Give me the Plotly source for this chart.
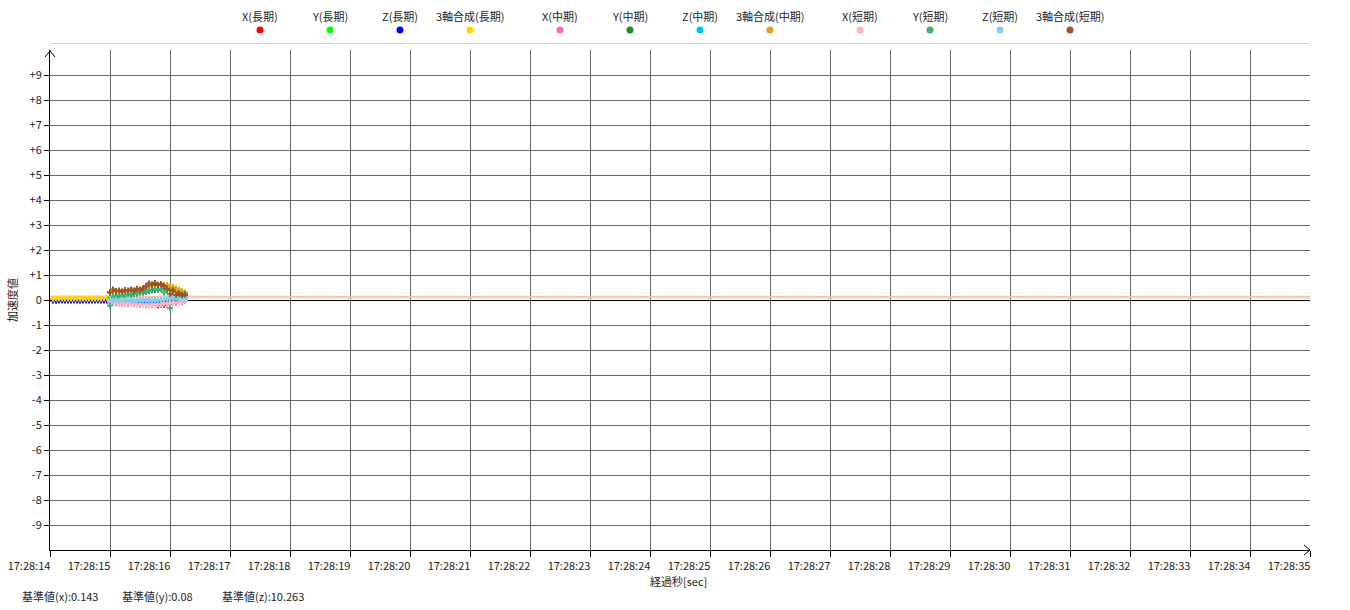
import plotly.graph_objects as go

# ---------------- data ----------------
series_names = ["X(長期)", "Y(長期)", "Z(長期)", "3軸合成(長期)",
                "X(中期)", "Y(中期)", "Z(中期)", "3軸合成(中期)",
                "X(短期)", "Y(短期)", "Z(短期)", "3軸合成(短期)"]
series_colors = ["#ff0000", "#00ff00", "#0000ff", "#ffd700",
                 "#ff69b4", "#228b22", "#00bfff", "#daa520",
                 "#ffb6c1", "#3cb371", "#87ceeb", "#a0522d"]

# sampling times (seconds after 17:28:00)
t_idle = [14.05, 14.10, 14.15, 14.20, 14.25, 14.30, 14.35, 14.40, 14.45, 14.50,
          14.55, 14.60, 14.65, 14.70, 14.75, 14.80, 14.85, 14.90, 14.95]
t_move = [15.00, 15.05, 15.10, 15.15, 15.20, 15.25, 15.30, 15.35, 15.40, 15.45,
          15.50, 15.55, 15.60, 15.65, 15.70, 15.75, 15.80, 15.85, 15.90, 15.95,
          16.00, 16.05, 16.10, 16.15, 16.20, 16.25]

# idle-phase values (long-term series only)
x_long_idle = [-0.01, -0.01, -0.01, -0.01, -0.01, -0.01, -0.01, -0.01, -0.01, -0.01,
               -0.01, -0.01, -0.01, -0.01, -0.01, -0.01, -0.01, -0.01, -0.02]
y_long_idle = [0.02, 0.02, 0.02, 0.02, 0.02, 0.02, 0.02, 0.02, 0.02, 0.02,
               0.02, 0.02, 0.02, 0.02, 0.02, 0.02, 0.02, 0.03, 0.04]
z_long_idle = [-0.02, -0.02, -0.01, -0.01, -0.01, -0.01, -0.01, -0.01, -0.01, -0.01,
               -0.01, -0.01, -0.01, -0.01, -0.01, -0.01, -0.01, -0.01, -0.01]
s_long_idle = [0.05, 0.06, 0.06, 0.06, 0.06, 0.06, 0.06, 0.06, 0.06, 0.06,
               0.06, 0.06, 0.06, 0.06, 0.06, 0.06, 0.06, 0.07, 0.09]

# moving-phase values
x_long = [-0.08, -0.10, -0.11, -0.12, -0.12, -0.13, -0.14, -0.14, -0.15, -0.16,
          -0.17, -0.18, -0.19, -0.20, -0.20, -0.20, -0.21, -0.20, -0.19, -0.17,
          -0.15, -0.13, -0.10, -0.08, -0.06, -0.04]
y_long = [0.12, 0.14, 0.15, 0.17, 0.18, 0.20, 0.22, 0.24, 0.26, 0.28,
          0.30, 0.32, 0.35, 0.38, 0.40, 0.42, 0.44, 0.45, 0.46, 0.46,
          0.45, 0.42, 0.38, 0.33, 0.28, 0.22]
z_long = [0.00, -0.02, -0.03, -0.04, -0.05, -0.05, -0.06, -0.06, -0.06, -0.07,
          -0.07, -0.07, -0.07, -0.07, -0.06, -0.06, -0.06, -0.06, -0.05, -0.05,
          -0.05, -0.04, -0.04, -0.03, -0.02, -0.01]
s_long = [0.28, 0.30, 0.31, 0.32, 0.33, 0.35, 0.36, 0.37, 0.38, 0.40,
          0.42, 0.44, 0.48, 0.52, 0.55, 0.57, 0.58, 0.60, 0.60, 0.59,
          0.56, 0.52, 0.47, 0.42, 0.36, 0.30]

x_mid = [-0.10, -0.12, -0.13, -0.14, -0.14, -0.15, -0.15, -0.16, -0.16, -0.17,
         -0.17, -0.18, -0.18, -0.18, -0.18, -0.17, -0.16, -0.15, -0.14, -0.13,
         -0.12, -0.10, -0.09, -0.07, -0.05, -0.04]
y_mid = [0.08, 0.10, 0.12, 0.14, 0.16, 0.18, 0.20, 0.22, 0.24, 0.26,
         0.28, 0.30, 0.33, 0.36, 0.38, 0.40, 0.42, 0.43, 0.43, 0.42,
         0.40, 0.37, 0.33, 0.28, 0.24, 0.20]
z_mid = [0.03, 0.02, 0.01, 0.00, 0.00, -0.01, -0.01, -0.01, -0.02, -0.02,
         -0.02, -0.02, -0.02, -0.02, -0.02, -0.01, -0.01, -0.01, 0.00, 0.01,
         0.02, 0.04, 0.06, 0.08, 0.08, 0.06]
s_mid = [0.33, 0.35, 0.36, 0.36, 0.37, 0.38, 0.38, 0.40, 0.40, 0.42,
         0.44, 0.47, 0.52, 0.58, 0.62, 0.63, 0.62, 0.61, 0.60, 0.58,
         0.54, 0.50, 0.45, 0.40, 0.35, 0.30]

x_short = [-0.05, -0.12, -0.08, -0.14, -0.10, -0.15, -0.12, -0.16, -0.13, -0.18,
           -0.15, -0.20, -0.17, -0.22, -0.18, -0.20, -0.16, -0.18, -0.12, -0.15,
           -0.10, -0.12, -0.06, -0.08, -0.03, -0.02]
y_short = [-0.22, 0.15, 0.05, 0.18, 0.12, 0.20, 0.22, 0.18, 0.25, 0.30,
           0.28, 0.35, 0.38, 0.40, 0.42, 0.45, 0.40, 0.44, 0.30, 0.05,
           -0.33, 0.20, 0.05, 0.25, 0.15, 0.18]
z_short = [0.05, -0.02, 0.02, -0.04, 0.00, -0.03, 0.01, -0.04, -0.01, -0.03,
           0.00, -0.04, -0.02, -0.05, -0.01, -0.03, 0.00, -0.02, 0.02, 0.05,
           0.12, 0.08, 0.10, 0.05, 0.07, 0.03]
s_short = [0.30, 0.42, 0.36, 0.38, 0.33, 0.40, 0.37, 0.42, 0.36, 0.45,
           0.40, 0.46, 0.55, 0.66, 0.62, 0.68, 0.60, 0.64, 0.55, 0.45,
           0.25, 0.38, 0.20, 0.25, 0.20, 0.22]

baseline_labels = ["基準値(x)", "基準値(y)", "基準値(z)"]
baseline_values = [0.143, 0.08, 10.263]
baseline_colors = ["#ffb6c1", "#90ee90", "#87ceeb"]

x_ticks = [14, 15, 16, 17, 18, 19, 20, 21, 22, 23, 24,
           25, 26, 27, 28, 29, 30, 31, 32, 33, 34, 35]
x_ticktext = ["17:28:%02d" % s for s in x_ticks]
y_ticks = [-9, -8, -7, -6, -5, -4, -3, -2, -1, 0, 1, 2, 3, 4, 5, 6, 7, 8, 9]
y_ticktext = [("+%d" % v if v > 0 else "%d" % v) for v in y_ticks]

# ---------------- figure ----------------
FONT = "Noto Sans CJK JP"
FS = 11
TXT = "#222"
W, H = 1350, 610
ML, MR, MT, MB = 50, 40, 50, 60
PW, PH = W - ML - MR, H - MT - MB


def px(xp):
    return (xp - ML) / PW


def py(yp):
    return (H - MB - yp) / PH


fig = go.Figure()

# baseline reference lines
for lab, val, col in zip(baseline_labels[:2], baseline_values[:2], baseline_colors[:2]):
    fig.add_trace(go.Scatter(x=[x_ticks[0], x_ticks[-1]], y=[val, val], mode="lines",
                             line=dict(color=col, width=1.2), showlegend=False,
                             hoverinfo="skip"))

series_data = [
    (t_idle + t_move, x_long_idle + x_long),
    (t_idle + t_move, y_long_idle + y_long),
    (t_idle + t_move, z_long_idle + z_long),
    (t_idle + t_move, s_long_idle + s_long),
    (t_move, x_mid), (t_move, y_mid), (t_move, z_mid), (t_move, s_mid),
    (t_move, x_short), (t_move, y_short), (t_move, z_short), (t_move, s_short),
]

for name, col, (tx, vy) in zip(series_names, series_colors, series_data):
    fig.add_trace(go.Scatter(x=tx, y=vy, mode="markers", name=name,
                             marker=dict(symbol="cross", size=5, color=col,
                                         line=dict(width=0)),
                             showlegend=False))

annotations = []
shapes = []

# custom legend: text above, dot below
centers = []
for g in range(3):
    for k in range(4):
        centers.append(260 + g * 300 + k * 70)
for name, col, cx in zip(series_names, series_colors, centers):
    annotations.append(dict(x=px(cx), y=py(16), xref="paper", yref="paper",
                            text=name, showarrow=False, xanchor="center",
                            yanchor="middle", font=dict(size=FS, color=TXT)))
    shapes.append(dict(type="circle", xref="paper", yref="paper",
                       xsizemode="pixel", ysizemode="pixel",
                       xanchor=px(cx), yanchor=py(30),
                       x0=-3.5, x1=3.5, y0=-3.5, y1=3.5,
                       fillcolor=col, line=dict(width=0)))

# legend separator
shapes.append(dict(type="line", xref="paper", yref="paper", x0=0, x1=1,
                   y0=py(43.5), y1=py(43.5), line=dict(color="#c0dde2", width=1)))

# axis arrows
shapes.append(dict(type="path", xref="paper", yref="paper",
                   path="M %f,%f L %f,%f L %f,%f" % (px(45), py(57), px(50), py(51), px(55), py(57)),
                   line=dict(color="black", width=1)))
shapes.append(dict(type="line", xref="paper", yref="paper", x0=0, x1=0,
                   y0=1, y1=py(51), line=dict(color="black", width=1)))
shapes.append(dict(type="path", xref="paper", yref="paper",
                   path="M %f,%f L %f,%f L %f,%f" % (px(1304), py(545), px(1310), py(550), px(1304), py(555)),
                   line=dict(color="black", width=1)))

# axis titles
annotations.append(dict(x=px(12), y=py(300), xref="paper", yref="paper",
                        text="加速度値", textangle=-90, showarrow=False,
                        xanchor="center", yanchor="middle",
                        font=dict(size=FS, color=TXT)))
annotations.append(dict(x=px(678), y=py(581), xref="paper", yref="paper",
                        text="経過秒[sec]", showarrow=False,
                        xanchor="center", yanchor="middle",
                        font=dict(size=FS, color=TXT)))

# baseline value texts
for lab, val, xs in zip(baseline_labels, baseline_values, [20, 120, 220]):
    annotations.append(dict(x=px(xs), y=py(596), xref="paper", yref="paper",
                            text="%s:%s" % (lab, ("%g" % val)), showarrow=False,
                            xanchor="left", yanchor="middle",
                            font=dict(size=FS, color=TXT)))

fig.update_layout(
    width=W, height=H,
    margin=dict(l=ML, r=MR, t=MT, b=MB, pad=0, autoexpand=False),
    paper_bgcolor="white", plot_bgcolor="white",
    font=dict(family=FONT, size=FS, color=TXT),
    annotations=annotations, shapes=shapes,
    showlegend=False,
    xaxis=dict(range=[x_ticks[0], x_ticks[-1]], tickmode="array",
               tickvals=x_ticks, ticktext=x_ticktext, automargin=False,
               showgrid=True, gridcolor="#666", gridwidth=1,
               zeroline=False, showline=True, linecolor="black", linewidth=1,
               ticks="outside", ticklen=6, tickcolor="black",
               ticklabelshift=-21,
               tickfont=dict(size=FS, color=TXT)),
    yaxis=dict(range=[-10, 10], tickmode="array",
               tickvals=y_ticks, ticktext=y_ticktext, automargin=False,
               showgrid=True, gridcolor="#666", gridwidth=1,
               zeroline=True, zerolinecolor="black", zerolinewidth=1,
               showline=True, linecolor="black", linewidth=1,
               ticks="outside", ticklen=5, tickcolor="black",
               tickfont=dict(size=FS, color=TXT)),
)

fig.write_html("out.html", config={"displayModeBar": False},
               post_script="document.body.style.margin='0';document.body.style.overflow='hidden';")
